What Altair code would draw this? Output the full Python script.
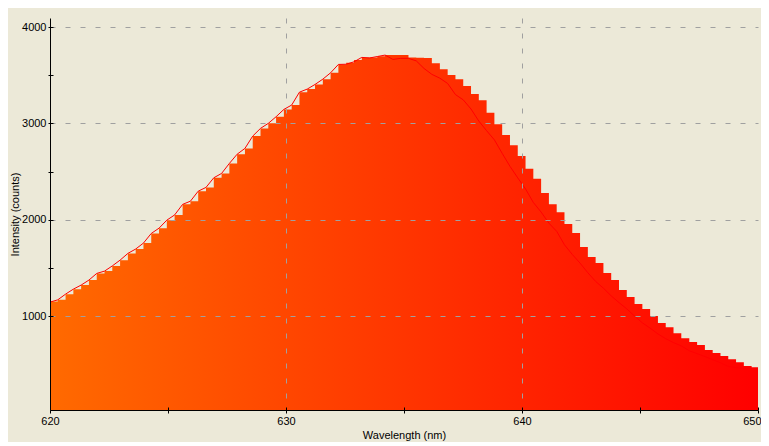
import altair as alt
import pandas as pd

# ---- data ----
wavelength = [
    620.00, 620.33, 620.66, 620.99, 621.32, 621.65, 621.98, 622.31, 622.64, 622.97,
    623.30, 623.63, 623.96, 624.29, 624.62, 624.95, 625.28, 625.62, 625.95, 626.28,
    626.61, 626.94, 627.27, 627.60, 627.93, 628.26, 628.59, 628.92, 629.25, 629.58,
    629.91, 630.24, 630.57, 630.90, 631.23, 631.56, 631.89, 632.22, 632.55, 632.88,
    633.21, 633.54, 633.87, 634.20, 634.53, 634.86, 635.19, 635.52, 635.85, 636.18,
    636.52, 636.85, 637.18, 637.51, 637.84, 638.17, 638.50, 638.83, 639.16, 639.49,
    639.82, 640.15, 640.48, 640.81, 641.14, 641.47, 641.80, 642.13, 642.46, 642.79,
    643.12, 643.45, 643.78, 644.11, 644.44, 644.77, 645.10, 645.43, 645.76, 646.09,
    646.42, 646.75, 647.09, 647.42, 647.75, 648.08, 648.41, 648.74, 649.07, 649.40,
    649.73,
]

bar_counts = [
    1152, 1169, 1228, 1280, 1322, 1374, 1443, 1467, 1521, 1581,
    1651, 1696, 1758, 1858, 1913, 1996, 2050, 2160, 2193, 2297,
    2336, 2436, 2481, 2585, 2681, 2741, 2869, 2949, 3001, 3070,
    3146, 3191, 3325, 3357, 3405, 3460, 3526, 3613, 3630, 3658,
    3686, 3686, 3697, 3710, 3710, 3710, 3685, 3683, 3680, 3626,
    3564, 3502, 3460, 3388, 3305, 3242, 3110, 2993, 2879, 2775,
    2661, 2529, 2426, 2277, 2162, 2079, 1955, 1862, 1717, 1613,
    1551, 1447, 1374, 1270, 1197, 1125, 1073, 1000, 927, 885,
    823, 771, 730, 699, 647, 616, 585, 553, 522, 481,
    470,
]

line_counts = [
    1145, 1169, 1228, 1280, 1322, 1374, 1443, 1467, 1521, 1581,
    1651, 1696, 1758, 1858, 1913, 1996, 2050, 2160, 2193, 2297,
    2336, 2436, 2481, 2585, 2681, 2741, 2869, 2949, 3001, 3070,
    3146, 3191, 3325, 3357, 3405, 3460, 3526, 3613, 3615, 3640,
    3686, 3680, 3695, 3710, 3665, 3676, 3676, 3650, 3571, 3510,
    3470, 3415, 3300, 3245, 3150, 3025, 2925, 2830, 2690, 2555,
    2435, 2320, 2180, 2080, 1965, 1880, 1740, 1640, 1550, 1450,
    1360, 1290, 1210, 1140, 1075, 1000, 930, 875, 815, 765,
    725, 690, 640, 610, 580, 548, 515, 478, 465, 455,
    450,
]

x_min, x_max = 620, 650
y_min, y_max = 25, 4095
x_ticks = [620, 625, 630, 635, 640, 645, 650]
y_ticks = [1000, 1500, 2000, 2500, 3000, 3500, 4000]

# ---- tables ----
area_df = pd.DataFrame({"wl": wavelength + [x_max], "counts": bar_counts + [bar_counts[-1]]})
line_df = pd.DataFrame({"wl": wavelength, "counts": line_counts})

FONT = "Liberation Sans"
xscale = alt.Scale(domain=[x_min, x_max], nice=False, zero=False)
yscale = alt.Scale(domain=[y_min, y_max], nice=False, zero=False)

x_grid = {"condition": {"test": "datum.value % 10 === 0 && datum.value > 620 && datum.value < 650", "value": 1}, "value": 0}
y_grid = {"condition": {"test": "datum.value % 1000 === 0", "value": 1}, "value": 0}
x_align = {"condition": {"test": "datum.value >= 650", "value": "right"}, "value": "center"}
x_loff = {"condition": {"test": "datum.value >= 650", "value": 3}, "value": 0}

x_axis = alt.Axis(
    values=x_ticks, format="d", title="Wavelength (nm)",
    labelExpr="datum.value % 10 === 0 ? datum.label : ''",
    labelFlush=False, labelOverlap=False, labelAlign=x_align, labelOffset=x_loff,
    grid=True, gridDash=[5, 10], gridColor="#A0A0A0", gridOpacity=x_grid,
    tickSize=3, tickColor="black", domainColor="black", labelPadding=2,
    labelFont=FONT, labelFontSize=11, labelColor="black",
    titleFont=FONT, titleFontSize=11, titleFontWeight="normal", titleColor="black",
    titlePadding=3, zindex=1,
)
y_axis = alt.Axis(
    values=y_ticks, format="d", title="Intensity (counts)",
    labelExpr="datum.value % 1000 === 0 ? datum.label : ''",
    labelFlush=False, labelOverlap=False,
    grid=True, gridDash=[5, 10], gridColor="#A0A0A0", gridOpacity=y_grid,
    tickSize=2, tickColor="black", domainColor="black", labelPadding=2,
    labelFont=FONT, labelFontSize=11, labelColor="black",
    titleFont=FONT, titleFontSize=11, titleFontWeight="normal", titleColor="black",
    titlePadding=1, zindex=1,
)

gradient = alt.Gradient(
    gradient="linear",
    stops=[alt.GradientStop(color="#FF6A00", offset=0), alt.GradientStop(color="#FF0000", offset=1)],
    x1=0, x2=1, y1=0, y2=0,
)

area = alt.Chart(area_df).mark_area(interpolate="step-after", color=gradient, clip=True).encode(
    x=alt.X("wl:Q", scale=xscale, axis=x_axis),
    y=alt.Y("counts:Q", scale=yscale, axis=y_axis),
)

line = alt.Chart(line_df).mark_line(color="#FF0000", strokeWidth=1, clip=True).encode(
    x=alt.X("wl:Q", scale=xscale, axis=alt.Axis(
        orient="bottom", offset=-3, values=x_ticks, labels=False, domain=False,
        grid=False, tickSize=3, tickColor="black", title=None, zindex=1)),
    y=alt.Y("counts:Q", scale=yscale, axis=alt.Axis(
        orient="left", offset=-3, values=y_ticks, labels=False, domain=False,
        grid=False, tickSize=3, tickColor="black", title=None, zindex=1)),
)

chart = alt.layer(area, line).resolve_axis(x="independent", y="independent").properties(
    width=708, height=392,
    autosize=alt.AutoSizeParams(type="none"),
    padding={"left": 42, "top": 10, "right": 3, "bottom": 32},
    background="#ECE9D8",
).configure_view(stroke=None)

chart.save("out.html", embed_options={"renderer": "svg", "actions": False})
